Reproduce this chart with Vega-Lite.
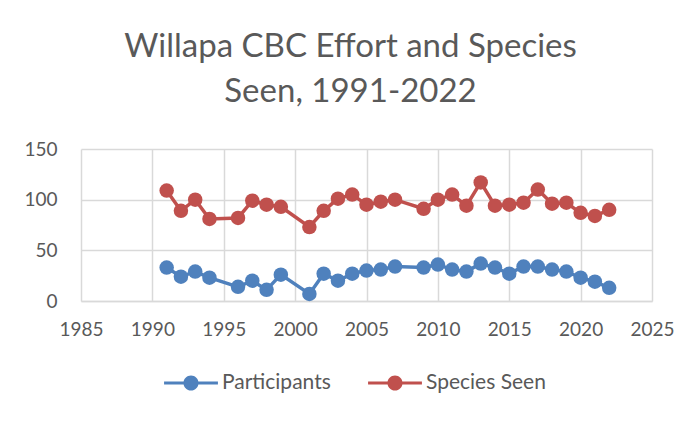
{
  "$schema": "https://vega.github.io/schema/vega-lite/v6.json",
  "width": 571,
  "height": 152,
  "autosize": "none",
  "padding": {"left": 81, "top": 149, "right": 47, "bottom": 123},
  "background": "white",
  "title": {
    "text": ["Willapa CBC Effort and Species", "Seen, 1991-2022"],
    "font": "Lato",
    "fontSize": 33,
    "fontWeight": "normal",
    "color": "#595959",
    "anchor": "middle",
    "dx": -16,
    "lineHeight": 45,
    "offset": 31
  },
  "data": {
    "values": [
      {"year": 1991, "series": "Participants", "value": 33},
      {"year": 1992, "series": "Participants", "value": 24},
      {"year": 1993, "series": "Participants", "value": 29},
      {"year": 1994, "series": "Participants", "value": 23},
      {"year": 1996, "series": "Participants", "value": 14},
      {"year": 1997, "series": "Participants", "value": 20},
      {"year": 1998, "series": "Participants", "value": 11},
      {"year": 1999, "series": "Participants", "value": 26},
      {"year": 2001, "series": "Participants", "value": 7},
      {"year": 2002, "series": "Participants", "value": 27},
      {"year": 2003, "series": "Participants", "value": 20},
      {"year": 2004, "series": "Participants", "value": 27},
      {"year": 2005, "series": "Participants", "value": 30},
      {"year": 2006, "series": "Participants", "value": 31},
      {"year": 2007, "series": "Participants", "value": 34},
      {"year": 2009, "series": "Participants", "value": 33},
      {"year": 2010, "series": "Participants", "value": 36},
      {"year": 2011, "series": "Participants", "value": 31},
      {"year": 2012, "series": "Participants", "value": 29},
      {"year": 2013, "series": "Participants", "value": 37},
      {"year": 2014, "series": "Participants", "value": 33},
      {"year": 2015, "series": "Participants", "value": 27},
      {"year": 2016, "series": "Participants", "value": 34},
      {"year": 2017, "series": "Participants", "value": 34},
      {"year": 2018, "series": "Participants", "value": 31},
      {"year": 2019, "series": "Participants", "value": 29},
      {"year": 2020, "series": "Participants", "value": 23},
      {"year": 2021, "series": "Participants", "value": 19},
      {"year": 2022, "series": "Participants", "value": 13},
      {"year": 1991, "series": "Species Seen", "value": 109},
      {"year": 1992, "series": "Species Seen", "value": 89},
      {"year": 1993, "series": "Species Seen", "value": 100},
      {"year": 1994, "series": "Species Seen", "value": 81},
      {"year": 1996, "series": "Species Seen", "value": 82},
      {"year": 1997, "series": "Species Seen", "value": 99},
      {"year": 1998, "series": "Species Seen", "value": 95},
      {"year": 1999, "series": "Species Seen", "value": 93},
      {"year": 2001, "series": "Species Seen", "value": 73},
      {"year": 2002, "series": "Species Seen", "value": 89},
      {"year": 2003, "series": "Species Seen", "value": 101},
      {"year": 2004, "series": "Species Seen", "value": 105},
      {"year": 2005, "series": "Species Seen", "value": 95},
      {"year": 2006, "series": "Species Seen", "value": 98},
      {"year": 2007, "series": "Species Seen", "value": 100},
      {"year": 2009, "series": "Species Seen", "value": 91},
      {"year": 2010, "series": "Species Seen", "value": 100},
      {"year": 2011, "series": "Species Seen", "value": 105},
      {"year": 2012, "series": "Species Seen", "value": 94},
      {"year": 2013, "series": "Species Seen", "value": 117},
      {"year": 2014, "series": "Species Seen", "value": 94},
      {"year": 2015, "series": "Species Seen", "value": 95},
      {"year": 2016, "series": "Species Seen", "value": 97},
      {"year": 2017, "series": "Species Seen", "value": 110},
      {"year": 2018, "series": "Species Seen", "value": 96},
      {"year": 2019, "series": "Species Seen", "value": 97},
      {"year": 2020, "series": "Species Seen", "value": 87},
      {"year": 2021, "series": "Species Seen", "value": 84},
      {"year": 2022, "series": "Species Seen", "value": 90}
    ]
  },
  "mark": {
    "type": "line",
    "strokeWidth": 3.5,
    "point": {"filled": true, "size": 210, "opacity": 1}
  },
  "encoding": {
    "x": {
      "field": "year",
      "type": "quantitative",
      "scale": {"domain": [1985, 2025], "nice": false, "zero": false},
      "axis": {
        "title": null,
        "values": [1985, 1990, 1995, 2000, 2005, 2010, 2015, 2020, 2025],
        "format": "d",
        "labelFont": "Lato",
        "labelFontSize": 19,
        "labelColor": "#595959",
        "labelPadding": 19,
        "ticks": false,
        "domain": true,
        "domainColor": "#d9d9d9",
        "domainWidth": 1.5,
        "gridColor": "#d9d9d9",
        "gridWidth": 1.5,
        "labelFlush": false,
        "labelOverlap": false
      }
    },
    "y": {
      "field": "value",
      "type": "quantitative",
      "scale": {"domain": [0, 150], "nice": false},
      "axis": {
        "title": null,
        "values": [0, 50, 100, 150],
        "labelFont": "Lato",
        "labelFontSize": 19,
        "labelColor": "#595959",
        "labelPadding": 24,
        "ticks": false,
        "domain": false,
        "gridColor": "#d9d9d9",
        "gridWidth": 1.5
      }
    },
    "color": {
      "field": "series",
      "type": "nominal",
      "scale": {"domain": ["Participants", "Species Seen"], "range": ["#4f81bd", "#c0504d"]},
      "legend": {
        "title": null,
        "orient": "none",
        "legendX": 83,
        "legendY": 207,
        "direction": "horizontal",
        "labelFont": "Lato",
        "labelFontSize": 21,
        "labelColor": "#595959",
        "symbolType": "M-1,-0.06L-0.25,-0.06L-0.25,0.06L-1,0.06Z M0.25,-0.06L1,-0.06L1,0.06L0.25,0.06Z M0.28,0A0.28,0.28 0 1,1 -0.28,0A0.28,0.28 0 1,1 0.28,0Z",
        "symbolSize": 2900,
        "symbolStrokeWidth": 0,
        "symbolOpacity": 1,
        "labelOffset": 4,
        "columnPadding": 37
      }
    }
  },
  "config": {
    "view": {"stroke": null}
  }
}
